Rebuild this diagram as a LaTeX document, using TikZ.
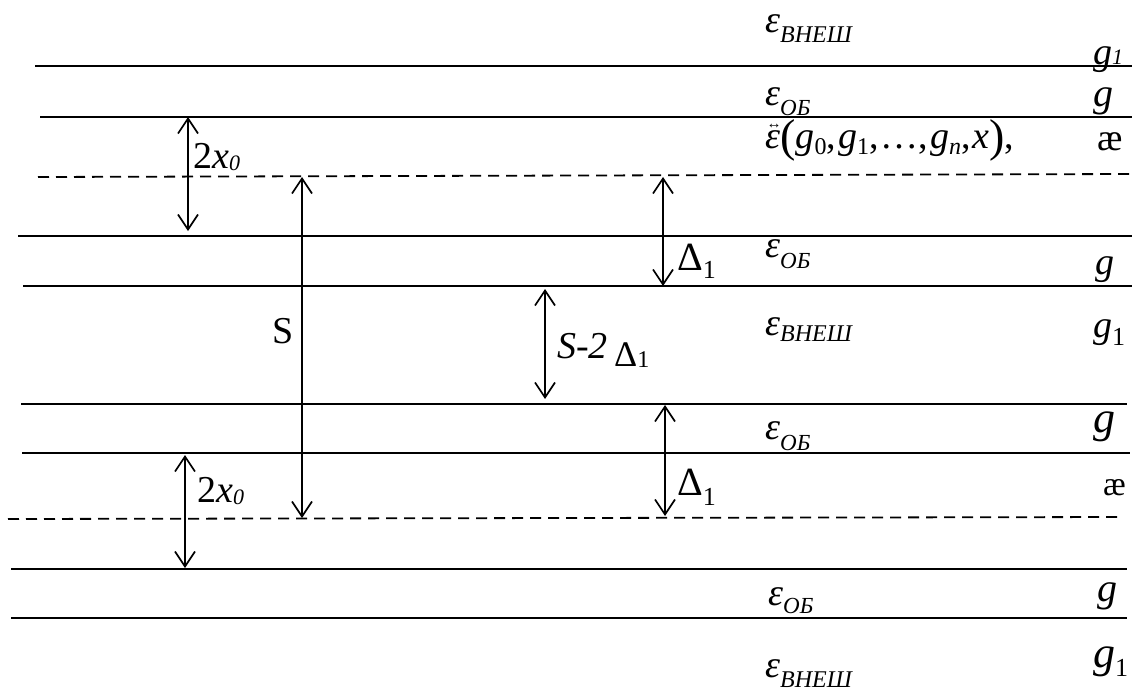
\documentclass[tikz,border=0pt]{standalone}
\usepackage{fontspec}
\setmainfont{Liberation Serif}
\usetikzlibrary{arrows.meta}
\newcommand{\fs}[1]{\fontsize{#1}{#1}\selectfont}
\newcommand{\sbl}[3]{\raisebox{-#1pt}{\fs{#2}#3}}
\begin{document}
\begin{tikzpicture}[x=1pt,y=-1pt,
  hl/.style={line width=1.8pt},
  dl/.style={line width=1.8pt, dash pattern=on 11pt off 7pt},
  dim/.style={line width=1.7pt, {Straight Barb[length=15pt,width=20pt]}-{Straight Barb[length=15pt,width=20pt]}},
  tx/.style={inner sep=0pt, anchor=base west, font=\fs{38}}]
\useasboundingbox (0,0) rectangle (1132,691);
% horizontal lines
\draw[hl] (35,66) -- (1132,66);
\draw[hl] (40,117) -- (1132,117);
\draw[dl] (38,177) -- (1132,174);
\draw[hl] (18,236) -- (1132,236);
\draw[hl] (23,286) -- (1132,286);
\draw[hl] (21,404) -- (1127,404);
\draw[hl] (22,453) -- (1130,453);
\draw[dl] (8,519) -- (1123,517);
\draw[hl] (11,569) -- (1127,569);
\draw[hl] (11,618) -- (1127,618);
% arrow end points
\coordinate (a1t) at (188,117);
\coordinate (a1b) at (188,231);
\coordinate (st) at (302,177);
\coordinate (sb) at (302,518);
\coordinate (d1t) at (663,177);
\coordinate (d1b) at (663,286);
\coordinate (sdt) at (545,289);
\coordinate (sdb) at (545,399);
\coordinate (d2t) at (665,405);
\coordinate (d2b) at (665,516);
\coordinate (a2t) at (185,455);
\coordinate (a2b) at (185,568);
\draw[dim] (a1t) -- (a1b);
\draw[dim] (st) -- (sb);
\draw[dim] (d1t) -- (d1b);
\draw[dim] (sdt) -- (sdb);
\draw[dim] (d2t) -- (d2b);
\draw[dim] (a2t) -- (a2b);
% labels on the left
\node[tx] (lx1) at (193,168) {2\textit{x}\sbl{2}{22}{\textit{0}}};
\node[tx] (lx2) at (197,502) {2\textit{x}\sbl{2}{22}{\textit{0}}};
\node[tx] (ls) at (272,343) {S};
\node[tx] (ld1) at (677,270) {{\fs{40}Δ}\sbl{8}{26}{1}};
\node[tx] (ld2) at (677,495) {{\fs{40}Δ}\sbl{10}{26}{1}};
\node[tx] (lsd) at (557,358) {\textit{S}-\textit{2}\,\raisebox{-8pt}{\fs{36}Δ\sbl{1}{24}{1}}};
% epsilons
\node[tx] (e1) at (765,32) {\textit{ε}\sbl{10}{24}{\textit{ВНЕШ}}};
\node[tx] (e2) at (765,105) {\textit{ε}\sbl{10}{23}{\textit{ОБ}}};
\node[tx] (e3) at (765,148) {\makebox[0pt][l]{\raisebox{20pt}{\fs{15}\kern1.5pt ↔}}\textit{ε}\raisebox{-3pt}{\fs{46}(}\textit{g}\sbl{6}{24}{0},\kern2pt\textit{g}\sbl{6}{24}{1},\kern2pt…,\kern2pt\textit{g}\sbl{6}{24}{\textit{n}},\kern2pt\textit{x}\raisebox{-3pt}{\fs{46})},};
\node[tx] (e4) at (765,257) {\textit{ε}\sbl{11}{23}{\textit{ОБ}}};
\node[tx] (e5) at (765,335) {\textit{ε}\sbl{6}{24}{\textit{ВНЕШ}}};
\node[tx] (e6) at (765,439) {\textit{ε}\sbl{11}{23}{\textit{ОБ}}};
\node[tx] (e7) at (768,605) {\textit{ε}\sbl{8}{23}{\textit{ОБ}}};
\node[tx] (e8) at (765,677) {\textit{ε}\sbl{10}{24}{\textit{ВНЕШ}}};
% right column
\node[tx] (r1) at (1093,64) {\textit{g}{\fs{22}\textit{1}}};
\node[tx] (r2) at (1093,106) {\fs{40}\textit{g}};
\node[tx] (r3) at (1097,150) {æ};
\node[tx] (r4) at (1095,274) {\textit{g}};
\node[tx] (r5) at (1093,337) {\textit{g}\sbl{8}{26}{1}};
\node[tx] (r6) at (1093,432) {\fs{44}\textit{g}};
\node[tx] (r7) at (1103,495) {\fs{34}æ};
\node[tx] (r8) at (1097,601) {\fs{40}\textit{g}};
\node[tx] (r9) at (1093,667) {{\fs{44}\textit{g}}\sbl{9}{26}{1}};
\end{tikzpicture}
\end{document}
